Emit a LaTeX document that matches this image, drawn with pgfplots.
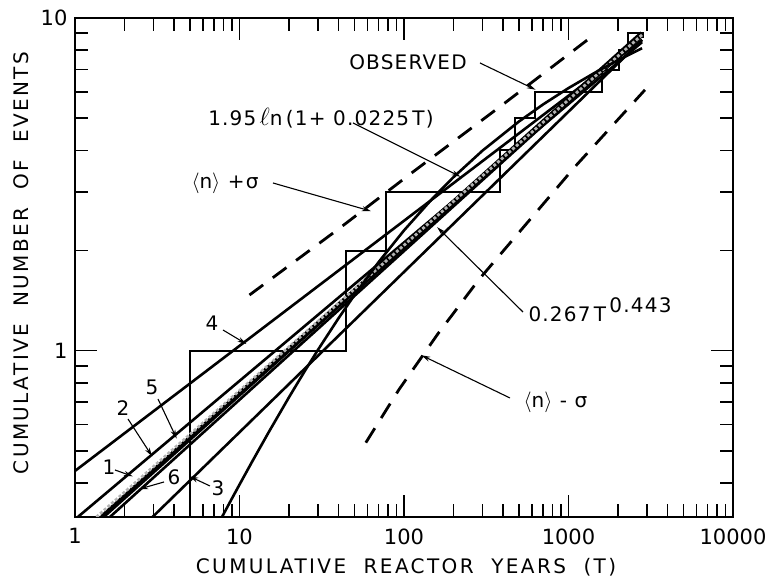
\documentclass[border=0pt]{standalone}
\usepackage{fontspec}
\setmainfont{DejaVu Sans}
\newfontfamily\lab[LetterSpace=12]{DejaVu Sans}
\newfontfamily\labb[LetterSpace=6]{DejaVu Sans}
\usepackage{pgfplots}
\pgfplotsset{compat=1.18}
\usetikzlibrary{arrows.meta}
\begin{document}
\begin{tikzpicture}[x=1pt,y=1pt]
\path[use as bounding box] (-75,-63) rectangle (699,517);
\begin{axis}[
  at={(0,0)}, anchor=south west,
  scale only axis, width=658pt, height=499pt,
  xmode=log, ymode=log,
  xmin=1, xmax=10000, ymin=0.3162, ymax=10,
  no markers,
  axis line style={line width=2pt},
  tick align=inside,
  major tick length=22pt, minor tick length=13pt,
  every tick/.append style={line width=1.6pt, black},
  xtick={1,10,100,1000,10000}, xticklabels={1,10,100,1000,10000},
  ytick={1,10}, yticklabels={1,10},
  minor xtick={2,3,4,5,6,7,8,9,20,30,40,50,60,70,80,90,200,300,400,500,600,700,800,900,2000,3000,4000,5000,6000,7000,8000,9000},
  minor ytick={0.4,0.5,0.6,0.7,0.8,0.9,2,3,4,5,6,7,8,9},
  tick label style={font=\fontsize{21}{24}\selectfont},
  /pgf/number format/assume math mode=true,
  xticklabel style={yshift=-8pt},
  yticklabel style={xshift=-4pt},
]
% observed staircase
\addplot[black, line width=2pt] coordinates {
 (5,0.3162) (5,1) (44.3,1) (44.3,2) (77.6,2) (77.6,3) (385,3) (385,4)
 (470,4) (470,5) (622,5) (622,6) (1590,6) (1590,7) (2030,7) (2030,8)
 (2310,8) (2310,9) (2850,9) (2850,8.7)};
% line 4
\addplot[black, line width=2.6pt] coordinates {(1,0.435) (2800,8.6)};
% line 1/2/5
\addplot[black, line width=2.6pt] coordinates {(1.04,0.3162) (2800,8.46)};
% line 3
\addplot[black, line width=2.6pt] coordinates {(2.96,0.3162) (2800,8.59)};
% line 6
\addplot[black, line width=2.6pt] coordinates {(1.63,0.3162) (2800,8.84)};
% fit 0.267 T^0.443
\addplot[black, line width=5pt] coordinates {(1.46,0.3162) (2800,8.99)};
% hatched grey line
\addplot[gray!60, line width=2.8pt, dash pattern=on 3pt off 2pt] coordinates {(1.35,0.3162) (2800,8.9)};
% 1.95 ln(1+0.0225T)
\addplot[black, line width=2.6pt] coordinates {
 (7.74,0.3131) (8,0.3227) (9,0.3596) (10,0.3957) (12,0.4661) (15,0.5671)
 (20,0.7245) (25,0.8703) (30,1.0059) (40,1.2516) (50,1.4699) (70,1.8444)
 (100,2.2984) (150,2.8780) (200,3.3243) (300,3.9930) (500,4.8858)
 (700,5.4959) (1000,6.1562) (1500,6.9189) (2000,7.4658) (2800,8.1098)};
% <n> + sigma
\addplot[black, line width=2.8pt, dash pattern=on 17pt off 12pt] coordinates {
 (11.5,1.47) (40.4,2.33) (112,3.43) (400,5.5) (1384,8.79)};
% <n> - sigma
\addplot[black, line width=2.8pt, dash pattern=on 17pt off 12pt] coordinates {
 (58.6,0.529) (93.2,0.764) (160,1.12) (284.8,1.634) (497.6,2.26) (1099,3.58) (2916,6.08)};
\end{axis}
% axis titles
\node[font=\fontsize{20}{24}\lab] at (331,-50) {CUMULATIVE\ \ REACTOR\ \ YEARS\ \ (T)};
\node[font=\fontsize{20}{24}\lab, rotate=90] at (-54,254) {CUMULATIVE\ \ NUMBER\ \ OF\ \ EVENTS};
% annotations
\tikzset{ann/.style={-{Stealth[length=9pt,width=5pt]}, line width=1.1pt, shorten >=-4pt}}
\node[font=\fontsize{20}{24}\labb] at (333,455) {OBSERVED};
\draw[ann] (405,454) -- (457,429);
\node[font=\fontsize{20}{24}\labb] at (246,399) {1.95\,{\fontsize{24}{24}\selectfont$\ell$}n\,(1+ 0.0225\,T)};
\draw[ann] (278,394) -- (382,342);
\node[font=\fontsize{20}{24}\labb] at (150,334) {$\langle$n$\rangle$ +σ};
\draw[ann] (198,334) -- (292,307);
\node[font=\fontsize{20}{24}\labb, anchor=west] at (450,207) {0.267\,T\,\raisebox{9pt}{0.443}};
\draw[ann] (448,205) -- (365,287);
\node[font=\fontsize{20}{24}\labb, anchor=west] at (445,115) {$\langle$n$\rangle$ - σ};
\draw[ann] (435,119) -- (350,160);
\node[font=\fontsize{20}{24}\selectfont] at (137,194) {4};
\draw[ann] (148,187) -- (168,175);
\node[font=\fontsize{20}{24}\selectfont] at (77,130) {5};
\draw[ann] (83,118) -- (100,82);
\node[font=\fontsize{20}{24}\selectfont] at (48,109) {2};
\draw[ann] (53,98) -- (75,64);
\node[font=\fontsize{20}{24}\selectfont] at (34,50) {1};
\draw[ann] (40,47) -- (54,42);
\node[font=\fontsize{20}{24}\selectfont] at (99,40) {6};
\draw[ann] (89,35) -- (68,29);
\node[font=\fontsize{20}{24}\selectfont] at (143,29) {3};
\draw[ann] (135,31) -- (118,39);
\end{tikzpicture}
\end{document}
